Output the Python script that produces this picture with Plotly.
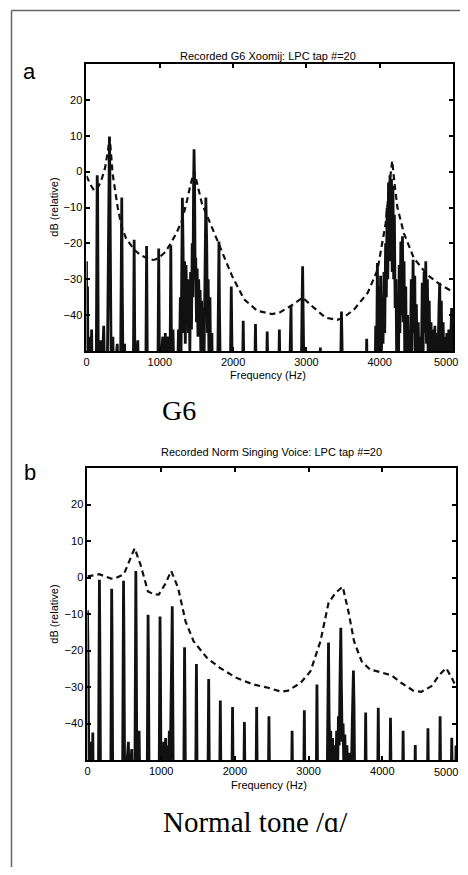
import plotly.graph_objects as go

# ---------------- data ----------------
x_ticks = [0, 1000, 2000, 3000, 4000, 5000]
y_ticks = [-40, -30, -20, -10, 0, 10, 20]

# Panel a: measured spectrum (Hz, dB) of recorded G6 Xoomij
spectrum_a = [
    (0, -25), (6, -60), (14, -32), (22, -60), (45, -46), (55, -60), (70, -44), (80, -60),
    (132, -60), (140, -12), (146, -1), (152, -6), (162, -60),
    (195, -47), (205, -60), (235, -43), (248, -60),
    (282, -60), (292, -42), (300, -15), (308, 0), (313, 9.8), (318, 2), (325, -20), (338, -60),
    (360, -46), (370, -60), (420, -48), (430, -60),
    (463, -60), (475, -25), (481, -7.2), (487, -30), (500, -60), (520, -48), (530, -60),
    (638, -60), (650, -19), (662, -60), (700, -47), (710, -60),
    (808, -60), (820, -20.7), (832, -60),
    (973, -60), (985, -21.4), (997, -60),
    (1040, -46), (1050, -60), (1075, -45), (1085, -60), (1110, -46), (1125, -60),
    (1138, -60), (1150, -20.5), (1162, -60), (1180, -44), (1195, -60),
    (1240, -60), (1255, -44), (1265, -58), (1280, -35), (1290, -50), (1300, -20), (1308, -7.3),
    (1318, -22), (1328, -45), (1338, -25), (1348, -48), (1358, -26), (1368, -40), (1380, -30),
    (1390, -45), (1400, -32), (1410, -50), (1420, -28), (1432, -44), (1442, -20), (1452, -35),
    (1460, -5), (1467, 6.2), (1474, -2), (1482, -30), (1490, -24), (1500, -42), (1510, -27),
    (1520, -46), (1530, -30), (1540, -40), (1550, -33), (1560, -52), (1570, -36), (1582, -55),
    (1595, -38), (1605, -50), (1615, -25), (1628, -7.2), (1640, -20), (1650, -45), (1660, -30),
    (1672, -55), (1684, -35), (1696, -60), (1710, -45), (1720, -60),
    (1788, -60), (1800, -30), (1807, -19.5), (1815, -40), (1828, -60),
    (1960, -60), (1975, -32), (1990, -60),
    (2126, -60), (2138, -41.6), (2150, -60),
    (2293, -60), (2305, -42.5), (2317, -60),
    (2453, -60), (2465, -44.6), (2477, -60),
    (2620, -60), (2631, -44), (2642, -60),
    (2768, -60), (2782, -45), (2790, -37.4), (2800, -60),
    (2928, -60), (2940, -38), (2948, -26.4), (2956, -40), (2968, -60),
    (3185, -60), (3190, -49), (3195, -60),
    (3463, -60), (3472, -46), (3478, -39), (3485, -47), (3494, -60),
    (3813, -60), (3822, -46.6), (3831, -60),
    (3935, -60), (3945, -43), (3955, -60), (3968, -25.5), (3978, -55), (3990, -32), (4000, -50),
    (4012, -29), (4022, -52), (4035, -36), (4045, -48), (4058, -28), (4068, -45), (4080, -20),
    (4090, -35), (4100, -10), (4110, -30), (4120, -3), (4130, -25), (4140, -1), (4150, -20),
    (4160, -2), (4170, -28), (4180, -4), (4190, -30), (4200, -12), (4210, -38), (4222, -30),
    (4232, -55), (4245, -43), (4255, -60), (4265, -26), (4275, -45), (4288, -19.5), (4298, -40),
    (4310, -18), (4320, -42), (4332, -25), (4342, -55), (4355, -32), (4365, -60), (4380, -40),
    (4392, -60), (4405, -44), (4415, -56), (4430, -30), (4440, -50), (4455, -24.6), (4465, -45),
    (4478, -29), (4488, -56), (4500, -37), (4512, -60), (4525, -42), (4538, -60), (4552, -46),
    (4565, -58), (4580, -31), (4592, -50), (4605, -28), (4615, -45), (4628, -25), (4638, -48),
    (4650, -30), (4662, -55), (4675, -36), (4688, -60), (4700, -42), (4712, -60), (4725, -44),
    (4738, -60), (4752, -43), (4765, -58), (4780, -45), (4792, -56), (4808, -38), (4818, -31),
    (4828, -50), (4840, -36), (4852, -60), (4865, -42), (4878, -60), (4890, -46), (4902, -60),
    (4915, -45), (4928, -60), (4942, -44), (4955, -58), (4970, -42), (4980, -38), (4990, -50),
    (5000, -40),
]

# Panel a: LPC envelope (Hz, dB)
lpc_a = [
    (0, -1.2), (50, -3.5), (105, -5.3), (160, -4.2), (200, -2.6), (254, 1.1), (290, 5.5),
    (317, 9.5), (357, -0.7), (425, -9.9), (480, -15.4), (540, -18.6), (652, -21.8),
    (740, -23.3), (820, -24.1), (880, -24.6), (940, -24.5), (987, -24), (1070, -22.5),
    (1150, -20), (1230, -17), (1304, -13.6), (1372, -8), (1420, -3.5), (1470, 0),
    (1520, -4.5), (1576, -9), (1690, -14.5), (1825, -21), (1984, -29), (2150, -35.6),
    (2330, -38.8), (2530, -39.7), (2631, -39.3), (2790, -37.4), (2948, -35.1), (3100, -37.9),
    (3260, -40.7), (3420, -41.3), (3500, -40.8), (3650, -38.4), (3835, -33.8), (3970, -27.4),
    (4080, -14.5), (4130, -4), (4170, 3), (4200, -3), (4240, -9.9), (4330, -17.2),
    (4465, -24.1), (4645, -28.7), (4825, -31.5), (5000, -33.5),
]

# Panel b: measured spectrum (Hz, dB) of normal singing voice
spectrum_b = [
    (0, -9), (10, -25), (20, -60), (35, -45), (45, -60), (62, -60), (72, -42.5), (80, -60),
    (147, -60), (157, -10), (162, -0.6), (167, -15), (178, -60),
    (315, -60), (323, -10), (328, -3.1), (333, -15), (343, -60),
    (475, -60), (484, -10), (489, -0.9), (494, -15), (505, -60),
    (555, -45), (565, -60), (600, -47), (610, -60),
    (642, -60), (651, -10), (656, 1.8), (661, -15), (671, -60),
    (680, -45), (690, -60), (700, -42), (712, -60),
    (809, -60), (817, -20), (822, -10.2), (827, -22), (837, -60),
    (971, -60), (979, -20), (984, -10.7), (989, -22), (999, -60),
    (1010, -46), (1020, -60), (1035, -45), (1045, -60), (1060, -44), (1070, -60), (1085, -46),
    (1095, -60), (1110, -42), (1120, -55), (1130, -40),
    (1140, -30), (1146, -15), (1150, -7.9), (1155, -20), (1165, -60),
    (1305, -60), (1312, -30), (1317, -19.1), (1322, -32), (1330, -60),
    (1467, -60), (1478, -23.7), (1489, -60),
    (1633, -60), (1644, -27.8), (1655, -60),
    (1792, -60), (1802, -33.7), (1812, -60),
    (1958, -60), (1968, -35.5), (1978, -60),
    (2119, -60), (2129, -39.6), (2139, -60),
    (2285, -60), (2295, -35.5), (2305, -60),
    (2452, -60), (2462, -38), (2472, -60),
    (2767, -60), (2776, -42), (2785, -60),
    (2932, -60), (2942, -36.4), (2952, -60),
    (3102, -60), (3113, -29.3), (3124, -60),
    (3250, -60), (3262, -35), (3270, -17.8), (3278, -38), (3288, -50), (3300, -42), (3312, -56),
    (3325, -44), (3338, -60), (3352, -46), (3365, -60), (3380, -42), (3392, -55), (3405, -38),
    (3415, -46), (3428, -25), (3437, -13.8), (3445, -30), (3455, -45), (3468, -40), (3480, -55),
    (3492, -43), (3505, -60), (3520, -46), (3535, -60), (3560, -48), (3575, -60), (3592, -40),
    (3600, -30), (3608, -25.5), (3616, -35), (3627, -60),
    (3764, -60), (3774, -37), (3784, -60),
    (3935, -60), (3945, -35.7), (3955, -60),
    (4101, -60), (4111, -38.4), (4121, -60),
    (4272, -60), (4282, -42), (4292, -60),
    (4438, -60), (4447, -45.9), (4456, -60),
    (4609, -60), (4619, -41.3), (4629, -60),
    (4774, -60), (4784, -38), (4794, -60),
    (4932, -60), (4942, -43.9), (4952, -60),
    (4990, -60), (5000, -46),
]

# Panel b: LPC envelope (Hz, dB)
lpc_b = [
    (0, 0.3), (158, 0.9), (320, -0.3), (381, -0.2), (494, 0.9), (570, 4.4), (640, 8),
    (720, 3.5), (820, -3.8), (900, -4.6), (966, -4.7), (1060, -1.6), (1135, 1.8),
    (1230, -2.9), (1330, -12), (1440, -17.5), (1620, -22), (1800, -24.8), (2020, -27.5),
    (2250, -29.3), (2450, -30.2), (2630, -31.3), (2720, -31), (2890, -28.9), (3025, -25.7),
    (3160, -17.5), (3270, -7), (3360, -4.3), (3463, -2.5), (3540, -9.3), (3617, -17.5),
    (3720, -23), (3832, -25.2), (3967, -25.9), (4124, -26.8), (4260, -28.9), (4420, -31),
    (4530, -31.3), (4665, -29.8), (4777, -26.6), (4866, -24.8), (4955, -28), (5000, -30),
]

title_a = "Recorded G6 Xoomij: LPC tap #=20"
title_b = "Recorded Norm Singing Voice: LPC tap #=20"
caption_a = "G6"
caption_b = "Normal tone /\u0251/"

# ---------------- figure ----------------
# The page puts the plot 8 px in from the top-left corner, so the figure is
# made 16 px smaller and every page position is converted with that offset.
PAGE_W, PAGE_H, OFF = 468, 875, 8
W, H = PAGE_W - 2 * OFF, PAGE_H - 2 * OFF
SANS = "Liberation Sans, Arial, sans-serif"
SERIF = "Liberation Serif, Times New Roman, serif"


def px_x(p):
    return (p - OFF) / W


def px_y(p):
    return 1 - (p - OFF) / H


fig = go.Figure()

for spec, lpc, xa, ya in [(spectrum_a, lpc_a, "x", "y"), (spectrum_b, lpc_b, "x2", "y2")]:
    fig.add_trace(go.Scatter(
        x=[p[0] for p in spec], y=[p[1] for p in spec], mode="lines",
        line=dict(color="#111111", width=2.8), xaxis=xa, yaxis=ya, hoverinfo="skip"))
    fig.add_trace(go.Scatter(
        x=[p[0] for p in lpc], y=[p[1] for p in lpc], mode="lines",
        line=dict(color="#111111", width=2.2, dash="6px,4px"), xaxis=xa, yaxis=ya,
        hoverinfo="skip"))

axis_common = dict(
    showline=True, linewidth=2, linecolor="black", mirror="ticks",
    ticks="inside", ticklen=4, tickwidth=1.5, tickcolor="black",
    showgrid=False, zeroline=False,
    tickfont=dict(family=SANS, size=11, color="black"),
)

fig.update_layout(
    width=W, height=H,
    margin=dict(l=0, r=0, t=0, b=0),
    paper_bgcolor="white", plot_bgcolor="white",
    showlegend=False,
    xaxis=dict(domain=[px_x(84), px_x(453)], range=[0, 5000], tickvals=x_ticks,
               anchor="y", **axis_common),
    yaxis=dict(domain=[px_y(351), px_y(64)], range=[-50, 30], tickvals=y_ticks,
               anchor="x", **axis_common),
    xaxis2=dict(domain=[px_x(85), px_x(456)], range=[0, 5000], tickvals=x_ticks,
                anchor="y2", **axis_common),
    yaxis2=dict(domain=[px_y(760), px_y(468)], range=[-50, 30], tickvals=y_ticks,
                anchor="x2", **axis_common),
)

# outer frame: left and top edges (the right and bottom edges lie off the page)
frame_line = dict(color="#666666", width=1.5)
fig.add_shape(type="line", xref="paper", yref="paper",
              x0=px_x(8.5), x1=1, y0=px_y(10.5), y1=px_y(10.5), line=frame_line)
fig.add_shape(type="line", xref="paper", yref="paper",
              x0=px_x(8.5), x1=px_x(8.5), y0=0, y1=px_y(10.5), line=frame_line)


def note(text, x, y, size, family=SANS, angle=0, xanchor="center"):
    fig.add_annotation(text=text, x=px_x(x), y=px_y(y), xref="paper", yref="paper",
                       showarrow=False, xanchor=xanchor, yanchor="middle",
                       textangle=angle, font=dict(family=family, size=size, color="black"))


note(title_a, 267, 56, 11)
note(title_b, 270, 452, 11)
note("a", 27, 71, 22)
note("b", 27, 472, 22)
note("dB (relative)", 51, 207, 11, angle=-90)
note("dB (relative)", 51, 614, 11, angle=-90)
note("Frequency (Hz)", 267, 375, 11)
note("Frequency (Hz)", 268, 785, 11)
note(caption_a, 177, 410, 28, family=SERIF)
note(caption_b, 254, 822, 29, family=SERIF)
# last tick label of each frequency axis sits at the page edge, where the
# automatic tick label would be dropped
note(str(x_ticks[-1]), PAGE_W - OFF, 362, 11, xanchor="right")
note(str(x_ticks[-1]), PAGE_W - OFF, 772, 11, xanchor="right")

fig.write_html("out.html", config={"displayModeBar": False})
